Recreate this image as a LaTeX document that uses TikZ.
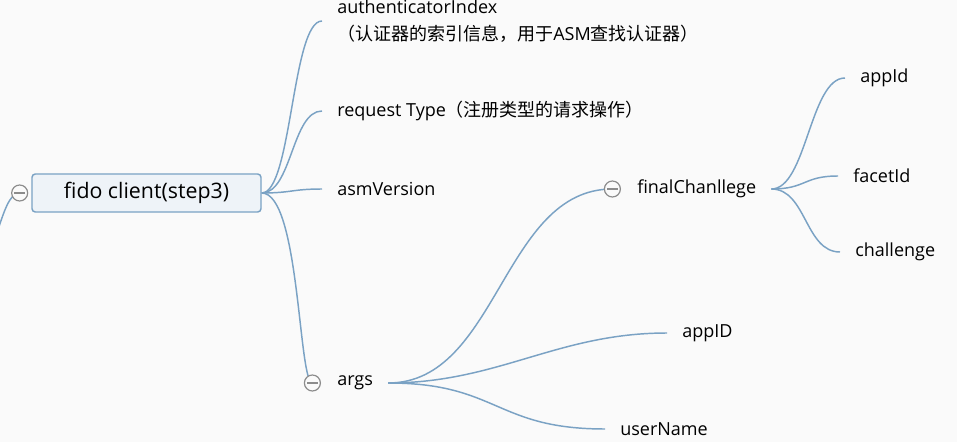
\documentclass[tikz,border=0pt]{standalone}
\usepackage{fontspec}
\setmainfont{Open Sans}
\newfontfamily\cjk{Noto Sans CJK SC}
\usetikzlibrary{positioning,backgrounds}

\definecolor{linkblue}{RGB}{122,162,196}
\definecolor{rootfill}{RGB}{238,243,248}
\definecolor{foldgray}{RGB}{140,140,140}
\definecolor{paper}{RGB}{250,250,250}

\tikzset{
  topic/.style={anchor=west, inner xsep=11.25pt, inner ysep=2pt, align=left,
    font=\fontsize{13.5}{20}\selectfont},
  rootbox/.style={draw=linkblue, fill=rootfill, line width=1.1pt, rounded corners=2.5pt,
    minimum width=171.75pt, minimum height=28.5pt, font=\fontsize{16}{20}\selectfont},
  fold/.style={circle, draw=foldgray, fill=paper, line width=0.9pt, minimum size=12pt, inner sep=0pt,
    path picture={\draw[foldgray, line width=0.9pt]
      ([xshift=-4pt]path picture bounding box.center) -- ([xshift=4pt]path picture bounding box.center);}},
  branch/.style={draw=linkblue, line width=1.1pt}
}

\begin{document}
\begin{tikzpicture}[x=0.75pt,y=-0.75pt]
        \useasboundingbox (0,0) rectangle (957,442);

        % Root
        \node[rootbox] (root) at (146.5,193) {fido client(step3)};
        \node[fold, left=2.25pt of root] (rootfold) {};
        \coordinate (parent) at (-4,236);

        % First level
        \node[topic] (auth) at (322,21) {authenticatorIndex\\{\cjk （认证器的索引信息，用于}ASM{\cjk 查找认证器）}};
        \node[topic] (req) at (322,111) {request Type{\cjk （注册类型的请求操作）}};
        \node[topic] (asm) at (322,189) {asmVersion};
        \node[topic] (args) at (322,383) {args};
        \node[fold, left=0.75pt of args] (argsfold) {};

        % args
        \node[topic] (final) at (622,189) {finalChanllege};
        \node[fold, left=0.75pt of final] (finalfold) {};
        \node[topic] (appID) at (667,333) {appID};
        \node[topic] (user) at (605,429) {userName};

        % finalChanllege
        \node[topic] (appId) at (845,78) {appId};
        \node[topic] (facet) at (838,176) {facetId};
        \node[topic] (chal) at (840,252) {challenge};

        % Branches
        \begin{scope}[on background layer]
            \fill[paper] (0,0) rectangle (957,442);
            \draw[branch] (parent) .. controls +(8,-25) and +(-10,0) .. (rootfold.center);
            \foreach \leaf in {auth,req,asm} {
                \draw[branch] (root.east) .. controls +(30,0) and +(-30,0) .. (\leaf.west);
            }
            \draw[branch] (root.east) .. controls +(38,0) and +(-14,0) .. (argsfold.center);
            \draw[branch] (args.east) .. controls +(110,0) and +(-110,0) .. (finalfold.center);
            \foreach \leaf in {appID,user} {
                \draw[branch] (args.east) .. controls +(110,0) and +(-110,0) .. (\leaf.west);
            }
            \foreach \leaf in {appId,facet,chal} {
                \draw[branch] (final.east) .. controls +(35,0) and +(-35,0) .. (\leaf.west);
            }
        \end{scope}
    \end{tikzpicture}
\end{document}
